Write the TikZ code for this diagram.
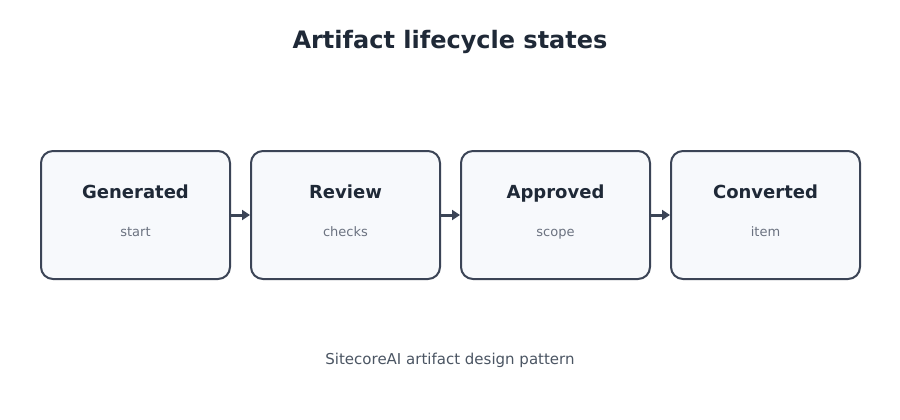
\documentclass[tikz,border=0pt]{standalone}
\usepackage{fontspec}
\setmainfont{DejaVu Sans}
\usetikzlibrary{arrows.meta}
\definecolor{ink}{HTML}{1F2937}
\definecolor{edgec}{HTML}{3B4456}
\definecolor{paper}{HTML}{F7F9FC}
\definecolor{muted}{HTML}{6B7280}
\definecolor{foot}{HTML}{4B5563}
\tikzstyle{state}=[draw=edgec,fill=paper,line width=2pt,rounded corners=12pt,minimum width=189pt,minimum height=128pt,inner sep=0pt]
\tikzstyle{statename}=[anchor=base,font=\fontsize{18}{20}\selectfont\bfseries,text=ink]
\tikzstyle{statenote}=[anchor=base,font=\fontsize{13}{15}\selectfont,text=muted]

\begin{document}
\begin{tikzpicture}[x=1pt,y=-1pt]
    \useasboundingbox[fill=white] (0,0) rectangle (900,420);
    \node[font=\fontsize{24}{28}\selectfont\bfseries,text=ink] (title) at (450,42) {Artifact lifecycle states};

    \node[state] (s1) at (135.5,215) {};
    \node[state] (s2) at (345.5,215) {};
    \node[state] (s3) at (555.5,215) {};
    \node[state] (s4) at (765.5,215) {};

    \foreach \s/\name/\note in {s1/Generated/start,s2/Review/checks,s3/Approved/scope,s4/Converted/item}
    {
        \node[statename] (\s-name) at ([yshift=16.5pt]\s.center) {\name};
        \node[statenote] (\s-note) at ([yshift=-21.5pt]\s.center) {\note};
    }

    \foreach \from/\to in {s1/s2,s2/s3,s3/s4}
    \draw[edgec,line width=3pt,-{Triangle[length=8pt,width=10pt]}] (\from) -- (\to);

    \node[font=\fontsize{15}{18}\selectfont,text=foot] (footer) at (450,360) {SitecoreAI artifact design pattern};
\end{tikzpicture}
\end{document}
